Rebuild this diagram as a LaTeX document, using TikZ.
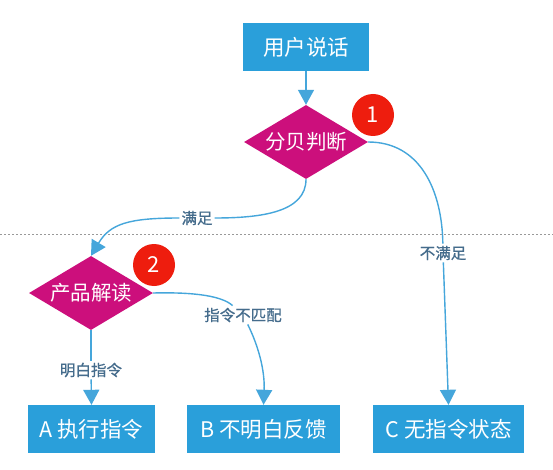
\documentclass[tikz,border=0pt]{standalone}
\usepackage{fontspec}
\setmainfont{Noto Sans CJK SC}
\usetikzlibrary{shapes.geometric,arrows.meta}
\definecolor{boxblue}{HTML}{2A9FDA}
\definecolor{dmag}{HTML}{CC0F7C}
\definecolor{badgered}{HTML}{EE1D0E}
\definecolor{arr}{HTML}{45A6DB}
\definecolor{lbl}{HTML}{456C8C}
\begin{document}
\begin{tikzpicture}[x=1pt,y=-1pt,
  box/.style={fill=boxblue, text=white, font=\fontsize{21.5}{24}\selectfont, minimum height=48pt, inner sep=0pt},
  dia/.style={diamond, fill=dmag, text=white, font=\fontsize{20.5}{22}\selectfont, minimum width=124pt, minimum height=74pt, inner sep=0pt, aspect=1.68},
  badgest/.style={circle, fill=badgered, text=white, minimum size=42pt, inner sep=0pt, font=\fontsize{22}{26}\selectfont},
  arrline/.style={draw=arr, line width=1.4pt},
  conn/.style={arrline, -{Triangle[width=16pt,length=15pt]}},
  lab/.style={fill=white, text=lbl, font=\fontsize{15.5}{17}\selectfont\addfontfeature{FakeBold=0.8}, inner sep=2pt}
]
\useasboundingbox (0,0) rectangle (553,470);
\fill[white] (0,0) rectangle (553,470);
\draw[gray!80, dash pattern=on 2pt off 2pt, line width=0.8pt] (0,234) -- (553,234);

\node[box, minimum width=126pt] (start) at (306,47) {用户说话};
\node[dia] (d1) at (306,142) {分贝判断};
\node[dia] (d2) at (91,293) {产品解读};
\node[box, minimum width=127pt] (a) at (91.5,429) {A 执行指令};
\node[box, minimum width=153pt] (b) at (263.5,429) {B 不明白反馈};
\node[box, minimum width=151pt] (c) at (448.5,429) {C 无指令状态};

\node[badgest] (n1) at (373,115) {1};
\node[badgest] (n2) at (154,265) {2};

\node[lab] (l1) at (197,218) {满足};
\node[lab] (l2) at (243,315) {指令不匹配};
\node[lab] (l3) at (443,253) {不满足};
\node[lab] (l4) at (91,370) {明白指令};

\draw[conn] (start) -- (d1);
\draw[arrline] (d1.south) .. controls (306,212) and (262,218) .. (l1);
\draw[conn] (l1) .. controls (128,218) and (110,224) .. (d2.north);
\draw[arrline] (d1.east) .. controls (420,142) and (442,190) .. (l3);
\draw[conn] (l3) -- (c.north);
\draw[arrline] (d2.east) .. controls (195,292) and (222,296) .. (l2);
\draw[conn] (l2) .. controls (258,345) and (265,370) .. (b.north);
\draw[arrline] (d2.south) -- (l4);
\draw[conn] (l4) -- (a.north);
\end{tikzpicture}
\end{document}
